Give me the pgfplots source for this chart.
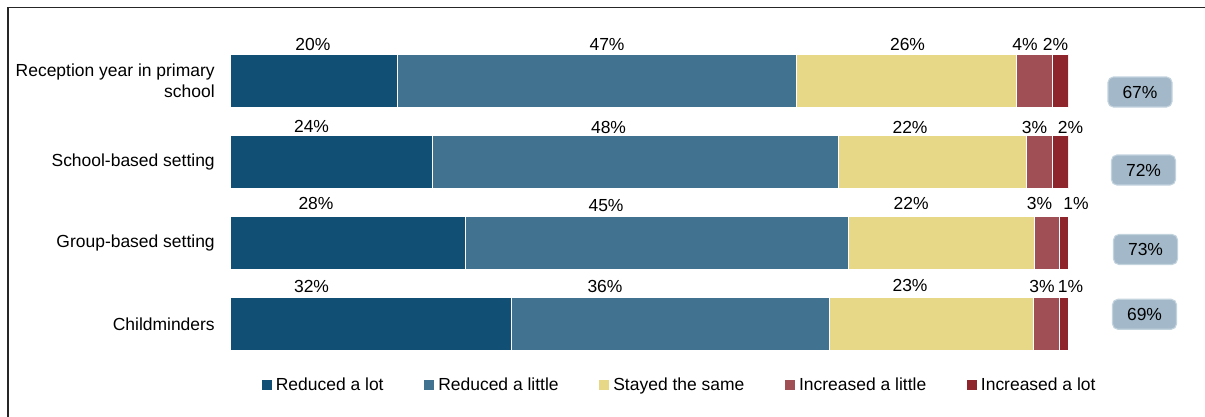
\documentclass[border=0pt]{standalone}
\usepackage{fontspec}
\setmainfont{Liberation Sans}
\usepackage{pgfplots}
\pgfplotsset{compat=1.18}
\definecolor{c1}{HTML}{114F74}
\definecolor{c2}{HTML}{41728F}
\definecolor{c3}{HTML}{E6D887}
\definecolor{c4}{HTML}{A04F54}
\definecolor{c5}{HTML}{8E252C}
\definecolor{boxf}{HTML}{A3B9C9}
\definecolor{boxd}{HTML}{C3D3DE}
\newcommand{\lf}{\fontsize{13.1pt}{15.7pt}\selectfont}
\begin{document}
\begin{tikzpicture}
\useasboundingbox (0,0) rectangle (903.75pt,312.75pt);
\draw[line width=1.1pt, black!85] (6pt,-2pt) -- (6pt,307.1pt) -- (906pt,307.1pt);
\begin{axis}[
  at={(172.5pt,39.375pt)}, anchor=south west,
  scale only axis, width=628.5pt, height=243pt,
  xbar stacked, bar width=39.75pt,
  xmin=0, xmax=100, ymin=-0.5, ymax=3.5, y dir=reverse,
  hide x axis,
  axis line style={draw=none},
  ytick={0,1,2,3},
  yticklabels={{Reception year in primary\\school},{School-based setting},{Group-based setting},{Childminders}},
  ytick style={draw=none},
  major tick length=0pt,
  yticklabel style={font=\lf, align=right, inner sep=0pt, xshift=-11.25pt},
  legend style={draw=none, fill=none, font=\lf, at={(0.537,-0.063)}, anchor=center,
    legend columns=5, /tikz/every even column/.append style={column sep=28.5pt},
    /tikz/every odd column/.append style={column sep=1pt}},
  legend image code/.code={\fill[#1, draw=none] (0pt,-3.75pt) rectangle (7.5pt,3.75pt);},
]
\addplot[fill=c1, draw=white, line width=0.3pt] coordinates {(19.93,0) (24.11,1) (28.04,2) (33.53,3)};
\addplot[fill=c2, draw=white, line width=0.3pt] coordinates {(47.61,0) (48.45,1) (45.70,2) (37.95,3)};
\addplot[fill=c3, draw=white, line width=0.3pt] coordinates {(26.25,0) (22.43,1) (22.20,2) (24.34,3)};
\addplot[fill=c4, draw=white, line width=0.3pt] coordinates {(4.30,0) (3.10,1) (2.98,2) (3.10,3)};
\addplot[fill=c5, draw=white, line width=0.3pt] coordinates {(1.91,0) (1.91,1) (1.07,2) (1.07,3)};
\legend{Reduced a lot, Reduced a little, Stayed the same, Increased a little, Increased a lot}
\end{axis}
\begin{axis}[
  at={(172.5pt,39.375pt)}, anchor=south west,
  scale only axis, width=628.5pt, height=243pt,
  xmin=0, xmax=100, ymin=-0.5, ymax=3.5, y dir=reverse,
  hide axis, clip=false,
]
\addplot[draw=none, mark=none, point meta=explicit symbolic,
  nodes near coords={\pgfplotspointmeta\%}, nodes near coords align=center,
  every node near coord/.append style={font=\lf, text=black, inner sep=0pt}]
  table[meta=m] {
x y m
9.90 -0.45 20
44.99 -0.45 47
80.85 -0.45 26
94.87 -0.45 4
98.51 -0.45 2
9.73 0.565 24
45.17 0.568 48
81.15 0.568 22
96.00 0.568 3
100.30 0.568 2
10.26 1.512 28
44.87 1.543 45
81.27 1.512 22
96.60 1.512 3
100.95 1.512 1
9.73 2.537 32
44.75 2.537 36
81.15 2.525 23
96.90 2.537 3
100.30 2.537 1
};
\addplot[draw=none, mark=none, point meta=explicit symbolic,
  nodes near coords={\pgfplotspointmeta\%}, nodes near coords align=center,
  every node near coord/.append style={font=\lf, text=black, fill=boxf, draw=boxd, line width=0.8pt,
    rounded corners=4pt, minimum width=48pt, minimum height=22.5pt, inner sep=0pt}]
  table[meta=m] {
x y m
108.59 0.136 67
109.01 1.099 72
109.25 2.080 73
109.13 2.880 69
};
\end{axis}
\end{tikzpicture}
\end{document}
